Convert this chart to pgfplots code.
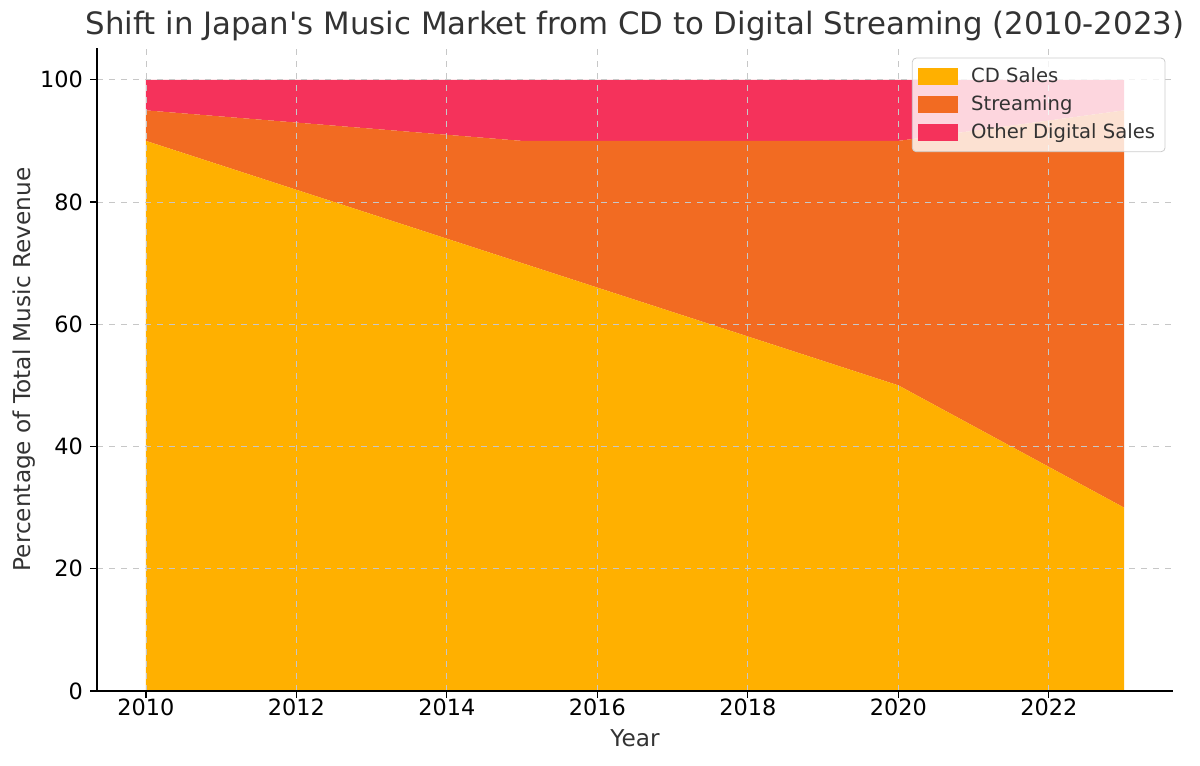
\documentclass[border=0pt]{standalone}
\usepackage{fontspec}
\setmainfont{DejaVu Sans}
\usepackage{pgfplots}
\pgfplotsset{compat=1.18}
\definecolor{cdc}{HTML}{FFB000}
\definecolor{stc}{HTML}{F26B22}
\definecolor{otc}{HTML}{F5325B}
\definecolor{txt}{HTML}{333333}
\begin{document}
\begin{tikzpicture}
\begin{axis}[
  scale only axis,
  width=538pt, height=321.5pt,
  xmin=2009.35, xmax=2023.65,
  ymin=0, ymax=105.2,
  stack plots=y,
  axis lines*=left,
  axis line style={line width=0.7pt, black},
  xtick={2010,2012,...,2022},
  ytick={0,20,...,100},
  xticklabel style={/pgf/number format/1000 sep={}},
  /pgf/number format/assume math mode=true,
  tick style={black, line width=0.6pt},
  tick align=outside,
  major tick length=3.5pt,
  ticklabel style={font=\fontsize{11.2}{13}\selectfont, text=black},
  xticklabel style={yshift=3pt},
  grid=major,
  grid style={dashed, line width=0.4pt, color=black!22},
  axis on top,
  title={Shift in Japan\textquotesingle s Music Market from CD to Digital Streaming (2010-2023)},
  title style={font=\fontsize{15.4}{18}\selectfont, text=txt, at={(0.5,1)}, anchor=base, yshift=0.5pt},
  xlabel={Year},
  ylabel={Percentage of Total Music Revenue},
  label style={font=\fontsize{11.6}{13}\selectfont, text=txt},
  xlabel style={at={(0.5,0)}, anchor=base, yshift=-27.5pt},
  ylabel style={at={(0,0.5)}, anchor=south, xshift=0pt, yshift=27.5pt},
  legend style={at={(0.993,0.985)}, anchor=north east, font=\fontsize{9.8}{11}\selectfont,
    draw=black!20, rounded corners=2pt, fill=white, fill opacity=0.8, text opacity=1,
    row sep=1pt, inner xsep=3pt, inner ysep=3pt, text=txt},
  legend cell align=left,
  legend image code/.code={\fill[#1, sharp corners, fill opacity=1] (0cm,-0.14cm) rectangle (0.7cm,0.16cm); \path (0.86cm,0);},
]
\addplot[fill=cdc, draw=none] coordinates {(2010,90) (2015,70) (2020,50) (2023,30)} \closedcycle;
\addplot[fill=stc, draw=none] coordinates {(2010,5) (2015,20) (2020,40) (2023,65)} \closedcycle;
\addplot[fill=otc, draw=none] coordinates {(2010,5) (2015,10) (2020,10) (2023,5)} \closedcycle;
\legend{CD Sales, Streaming, Other Digital Sales}
\coordinate (SW) at (rel axis cs:0,0);
\end{axis}
\pgfresetboundingbox
\path ([shift={(-48.5pt,-37.5pt)}]SW) rectangle ++(600pt,383pt);
\end{tikzpicture}
\end{document}
